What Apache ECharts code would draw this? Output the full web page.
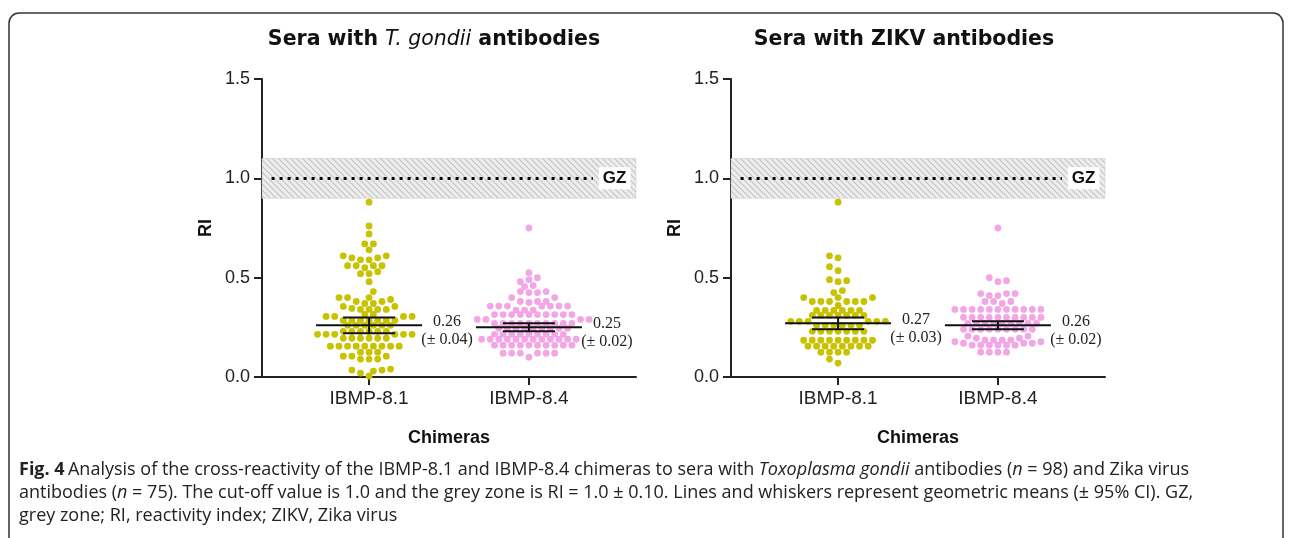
<!DOCTYPE html>
<html>
<head>
<meta charset="utf-8">
<title>Fig. 4 - cross-reactivity of IBMP-8.1 and IBMP-8.4</title>
<script src="https://cdn.jsdelivr.net/npm/echarts@6/dist/echarts.min.js"></script>
<style>
  html, body { margin: 0; padding: 0; background: #fff; }
  #chart { width: 1290px; height: 538px; }
</style>
</head>
<body>
<div id="chart"></div>
<script>
// chimeras on the x axis
const groups = ['IBMP-8.1', 'IBMP-8.4'];
const groupPos = [1, 2];

// RI values, sera with T. gondii antibodies (n = 98)
const toxoIbmp81 = [
  0.88, 0.76, 0.72, 0.67, 0.67, 0.64, 0.61, 0.61, 0.60, 0.60,
  0.59, 0.59, 0.56, 0.56, 0.56, 0.55, 0.56, 0.53, 0.52, 0.52,
  0.48, 0.43, 0.40, 0.40, 0.40, 0.39, 0.38, 0.38, 0.37, 0.37,
  0.355, 0.355, 0.345, 0.34, 0.34, 0.34, 0.34, 0.315, 0.315, 0.305,
  0.305, 0.305, 0.305, 0.285, 0.285, 0.285, 0.285, 0.285, 0.285, 0.285,
  0.26, 0.26, 0.26, 0.26, 0.26, 0.26, 0.23, 0.23, 0.23, 0.23,
  0.23, 0.23, 0.215, 0.215, 0.215, 0.215, 0.215, 0.215, 0.195, 0.195,
  0.195, 0.195, 0.195, 0.195, 0.155, 0.155, 0.155, 0.155, 0.155, 0.155,
  0.155, 0.155, 0.155, 0.125, 0.125, 0.125, 0.105, 0.105, 0.105, 0.09,
  0.09, 0.09, 0.04, 0.035, 0.035, 0.03, 0.02, 0.005
];
const toxoIbmp84 = [
  0.75, 0.525, 0.50, 0.49, 0.48, 0.46, 0.455, 0.43, 0.43, 0.425,
  0.425, 0.40, 0.40, 0.38, 0.38, 0.38, 0.375, 0.357, 0.357, 0.357,
  0.357, 0.357, 0.357, 0.357, 0.337, 0.337, 0.337, 0.314, 0.314, 0.314,
  0.314, 0.314, 0.314, 0.314, 0.314, 0.314, 0.314, 0.29, 0.29, 0.29,
  0.29, 0.27, 0.27, 0.27, 0.27, 0.27, 0.27, 0.27, 0.27, 0.27,
  0.27, 0.245, 0.245, 0.245, 0.245, 0.245, 0.245, 0.245, 0.245, 0.245,
  0.215, 0.215, 0.215, 0.215, 0.215, 0.215, 0.215, 0.215, 0.215, 0.19,
  0.19, 0.19, 0.19, 0.19, 0.19, 0.19, 0.19, 0.19, 0.19, 0.19,
  0.19, 0.16, 0.16, 0.16, 0.16, 0.16, 0.16, 0.16, 0.16, 0.16,
  0.16, 0.12, 0.12, 0.12, 0.12, 0.12, 0.12, 0.10
];

// RI values, sera with ZIKV antibodies (n = 75)
const zikvIbmp81 = [
  0.88, 0.61, 0.60, 0.555, 0.535, 0.49, 0.485, 0.48, 0.435, 0.425,
  0.40, 0.40, 0.40, 0.38, 0.38, 0.38, 0.38, 0.38, 0.38, 0.36,
  0.335, 0.335, 0.335, 0.335, 0.335, 0.335, 0.31, 0.31, 0.31, 0.31,
  0.31, 0.31, 0.31, 0.28, 0.28, 0.28, 0.28, 0.28, 0.28, 0.26,
  0.26, 0.26, 0.26, 0.26, 0.26, 0.23, 0.23, 0.23, 0.23, 0.23,
  0.23, 0.23, 0.185, 0.185, 0.185, 0.185, 0.185, 0.185, 0.185, 0.185,
  0.185, 0.155, 0.155, 0.155, 0.155, 0.155, 0.155, 0.155, 0.155, 0.125,
  0.125, 0.125, 0.125, 0.09, 0.07
];
const zikvIbmp84 = [
  0.75, 0.50, 0.485, 0.48, 0.42, 0.42, 0.42, 0.41, 0.41, 0.38,
  0.38, 0.38, 0.37, 0.34, 0.34, 0.34, 0.34, 0.34, 0.34, 0.34,
  0.34, 0.34, 0.34, 0.34, 0.30, 0.30, 0.30, 0.30, 0.30, 0.30,
  0.30, 0.30, 0.30, 0.30, 0.27, 0.27, 0.27, 0.27, 0.27, 0.27,
  0.27, 0.27, 0.27, 0.24, 0.24, 0.24, 0.24, 0.24, 0.24, 0.24,
  0.24, 0.24, 0.206, 0.206, 0.195, 0.195, 0.186, 0.186, 0.186, 0.186,
  0.178, 0.178, 0.17, 0.17, 0.17, 0.16, 0.16, 0.16, 0.16, 0.16,
  0.16, 0.125, 0.125, 0.125, 0.125
];

// geometric means and 95% CI
const toxoMeans = [0.26, 0.25];
const toxoCiLow = [0.22, 0.23];
const toxoCiHigh = [0.30, 0.27];
const toxoCiLabels = ['(± 0.04)', '(± 0.02)'];
const zikvMeans = [0.27, 0.26];
const zikvCiLow = [0.24, 0.24];
const zikvCiHigh = [0.30, 0.28];
const zikvCiLabels = ['(± 0.03)', '(± 0.02)'];

// cut-off and grey zone
const cutoff = 1.0;
const greyZone = [0.9, 1.1];

const Y_MIN = 0, Y_MAX = 1.5, Y_STEP = 0.5;
const X_MIN = 0.33, X_MAX = 2.67;

// layout
const GRID_TOP = 79, GRID_H = 298, GRID_W = 374;
const GRID_LEFT = [262, 731];
const PX_PER_Y = GRID_H / (Y_MAX - Y_MIN);
const PX_PER_X = GRID_W / (X_MAX - X_MIN);
const DOT = 6.8;      // dot size
const SLOT = 4.3;     // dots sit on a grid of half-spacings (px)
const MIN_DIST = 6.1; // no two dot centres closer than this (px)
const MEAN_HALF = 53; // half width of mean line (px)
const CAP_HALF = 26;  // half width of CI caps (px)
const LABEL_DX = 78;

const YELLOW = '#c8c200';
const PINK = '#f3a6e6';
const AXIS = '#222';

// beeswarm on a slot grid: each point takes the free slot nearest the centre
function swarm(values, centre) {
  const placed = [];
  const sorted = values.slice().sort((a, b) => a - b);
  const slots = [];
  for (let j = -40; j <= 40; j++) slots.push(j);
  sorted.forEach((v, k) => {
    const py = v * PX_PER_Y;
    const side = k % 2 ? 1 : -1;
    const order = slots.slice().sort((a, b) => (Math.abs(a) - Math.abs(b)) || (a - b) * side);
    let j = order.find(s => placed.every(p => Math.hypot(p.x - s * SLOT, p.y - py) >= MIN_DIST));
    if (j === undefined) j = 0;
    placed.push({ x: j * SLOT, y: py });
  });
  return placed.map(p => [centre + p.x / PX_PER_X, p.y / PX_PER_Y]);
}

function hatch() {
  const c = document.createElement('canvas');
  c.width = 6; c.height = 6;
  const g = c.getContext('2d');
  g.fillStyle = '#ededed';
  g.fillRect(0, 0, 6, 6);
  g.strokeStyle = '#c4c4c4';
  g.lineWidth = 1.1;
  g.beginPath();
  g.moveTo(-1, -1); g.lineTo(7, 7);
  g.moveTo(-1, 5); g.lineTo(1, 7);
  g.moveTo(5, -1); g.lineTo(7, 1);
  g.stroke();
  return c;
}
const hatchPattern = { image: hatch(), repeat: 'repeat' };

function statsRenderer(means, ciLabels) {
  return function (params, api) {
    const x = api.value(0);
    const c = api.coord([x, api.value(1)]);
    const lo = api.coord([x, api.value(2)]);
    const hi = api.coord([x, api.value(3)]);
    const i = params.dataIndex;
    const st = { stroke: '#111', lineWidth: 2 };
    return {
      type: 'group',
      children: [
        { type: 'line', shape: { x1: c[0] - MEAN_HALF, y1: c[1], x2: c[0] + MEAN_HALF, y2: c[1] }, style: st },
        { type: 'line', shape: { x1: c[0], y1: lo[1], x2: c[0], y2: hi[1] }, style: st },
        { type: 'line', shape: { x1: c[0] - CAP_HALF, y1: lo[1], x2: c[0] + CAP_HALF, y2: lo[1] }, style: st },
        { type: 'line', shape: { x1: c[0] - CAP_HALF, y1: hi[1], x2: c[0] + CAP_HALF, y2: hi[1] }, style: st },
        {
          type: 'text',
          style: {
            text: means[i].toFixed(2) + '\n' + ciLabels[i],
            x: c[0] + LABEL_DX, y: c[1] + 5,
            align: 'center', verticalAlign: 'middle',
            font: '16px "Liberation Serif", serif',
            lineHeight: 18, fill: '#222'
          }
        }
      ]
    };
  };
}

function xAxis(idx) {
  return {
    type: 'value', gridIndex: idx, min: X_MIN, max: X_MAX,
    splitLine: { show: false },
    axisLine: { show: true, onZero: false, lineStyle: { color: AXIS, width: 2 } },
    axisTick: { show: true, customValues: groupPos, length: 8, lineStyle: { color: AXIS, width: 2 } },
    axisLabel: {
      customValues: groupPos, formatter: v => groups[Math.round(v) - 1],
      fontFamily: 'Liberation Sans', fontSize: 19, color: '#222', margin: 12
    },
    name: 'Chimeras', nameLocation: 'middle', nameGap: 52,
    nameTextStyle: { fontFamily: 'Liberation Sans', fontWeight: 'bold', fontSize: 18, color: '#111' }
  };
}

function yAxis(idx) {
  return {
    type: 'value', gridIndex: idx, min: Y_MIN, max: Y_MAX, interval: Y_STEP,
    splitLine: { show: false },
    axisLine: { show: true, onZero: false, lineStyle: { color: AXIS, width: 2 } },
    axisTick: { show: true, length: 8, lineStyle: { color: AXIS, width: 2 } },
    axisLabel: {
      formatter: v => v.toFixed(1),
      fontFamily: 'Liberation Sans', fontSize: 18, color: '#222', margin: 12
    },
    name: 'RI', nameLocation: 'middle', nameGap: 47,
    nameTextStyle: { fontFamily: 'Liberation Sans', fontWeight: 'bold', fontSize: 18, color: '#111' }
  };
}

function panelSeries(idx, v81, v84, means, lo, hi, ciLabels) {
  const gz = {
    silent: true,
    itemStyle: { color: hatchPattern, borderColor: '#c8c8c8', borderWidth: 1, borderType: 'dotted' },
    data: [[{ yAxis: greyZone[0] }, { yAxis: greyZone[1] }]]
  };
  const cut = {
    silent: true, symbol: 'none',
    lineStyle: { color: '#000', width: 3, type: [3, 5], cap: 'butt' },
    label: {
      show: true, position: 'end', formatter: 'GZ', distance: 6,
      fontFamily: 'Liberation Sans', fontWeight: 'bold', fontSize: 17, color: '#111',
      backgroundColor: '#fff', padding: [3, 4, 2, 4]
    },
    data: [[{ coord: [X_MIN + 0.06, cutoff] }, { coord: [X_MAX - 0.27, cutoff] }]]
  };
  return [
    {
      type: 'scatter', xAxisIndex: idx, yAxisIndex: idx, symbolSize: DOT,
      itemStyle: { color: YELLOW, opacity: 1 }, data: swarm(v81, groupPos[0]),
      markArea: gz, markLine: cut, z: 2
    },
    {
      type: 'scatter', xAxisIndex: idx, yAxisIndex: idx, symbolSize: DOT,
      itemStyle: { color: PINK, opacity: 1 }, data: swarm(v84, groupPos[1]), z: 2
    },
    {
      type: 'custom', xAxisIndex: idx, yAxisIndex: idx, z: 5, silent: true,
      renderItem: statsRenderer(means, ciLabels),
      data: groupPos.map((p, i) => [p, means[i], lo[i], hi[i]])
    }
  ];
}

const captionFont = '"Open Sans", sans-serif';
const CAP_SIZE = 18;
const capRich = {
  b: { fontFamily: captionFont, fontWeight: 'bold', fontSize: CAP_SIZE, fill: '#222' },
  n: { fontFamily: captionFont, fontSize: CAP_SIZE, fill: '#222' },
  i: { fontFamily: captionFont, fontStyle: 'italic', fontSize: CAP_SIZE, fill: '#222' }
};
const titleRich = {
  b: { fontFamily: '"DejaVu Sans"', fontWeight: 'bold', fontSize: 20.5, fill: '#111' },
  i: { fontFamily: '"DejaVu Sans"', fontStyle: 'italic', fontSize: 20.5, fill: '#111' }
};

const chart = echarts.init(document.getElementById('chart'), null, { renderer: 'canvas' });
chart.setOption({
  animation: false,
  backgroundColor: '#fff',
  grid: GRID_LEFT.map(l => ({ left: l, top: GRID_TOP, width: GRID_W, height: GRID_H })),
  xAxis: [xAxis(0), xAxis(1)],
  yAxis: [yAxis(0), yAxis(1)],
  series: [
    ...panelSeries(0, toxoIbmp81, toxoIbmp84, toxoMeans, toxoCiLow, toxoCiHigh, toxoCiLabels),
    ...panelSeries(1, zikvIbmp81, zikvIbmp84, zikvMeans, zikvCiLow, zikvCiHigh, zikvCiLabels)
  ],
  graphic: [
    {
      type: 'rect', silent: true,
      shape: { x: 9, y: 13, width: 1274, height: 570, r: 10 },
      style: { fill: 'none', stroke: '#333', lineWidth: 1.5 }
    },
    {
      type: 'text', x: 434, y: 40,
      style: { text: '{b|Sera with }{i|T. gondii}{b| antibodies}', rich: titleRich, align: 'center', verticalAlign: 'middle' }
    },
    {
      type: 'text', x: 904, y: 40,
      style: { text: '{b|Sera with ZIKV antibodies}', rich: titleRich, align: 'center', verticalAlign: 'middle' }
    },
    {
      type: 'text', x: 19, y: 470,
      style: {
        text: '{b|Fig. 4} {n|Analysis of the cross-reactivity of the IBMP-8.1 and IBMP-8.4 chimeras to sera with }{i|Toxoplasma gondii}{n| antibodies (}{i|n}{n| = 98) and Zika virus}',
        rich: capRich, verticalAlign: 'middle'
      }
    },
    {
      type: 'text', x: 19, y: 493,
      style: {
        text: '{n|antibodies (}{i|n}{n| = 75). The cut-off value is 1.0 and the grey zone is RI = 1.0 ± 0.10. Lines and whiskers represent geometric means (± 95% CI). GZ,}',
        rich: capRich, verticalAlign: 'middle'
      }
    },
    {
      type: 'text', x: 19, y: 516,
      style: {
        text: '{n|grey zone; RI, reactivity index; ZIKV, Zika virus}',
        rich: capRich, verticalAlign: 'middle'
      }
    }
  ]
});
</script>
</body>
</html>
